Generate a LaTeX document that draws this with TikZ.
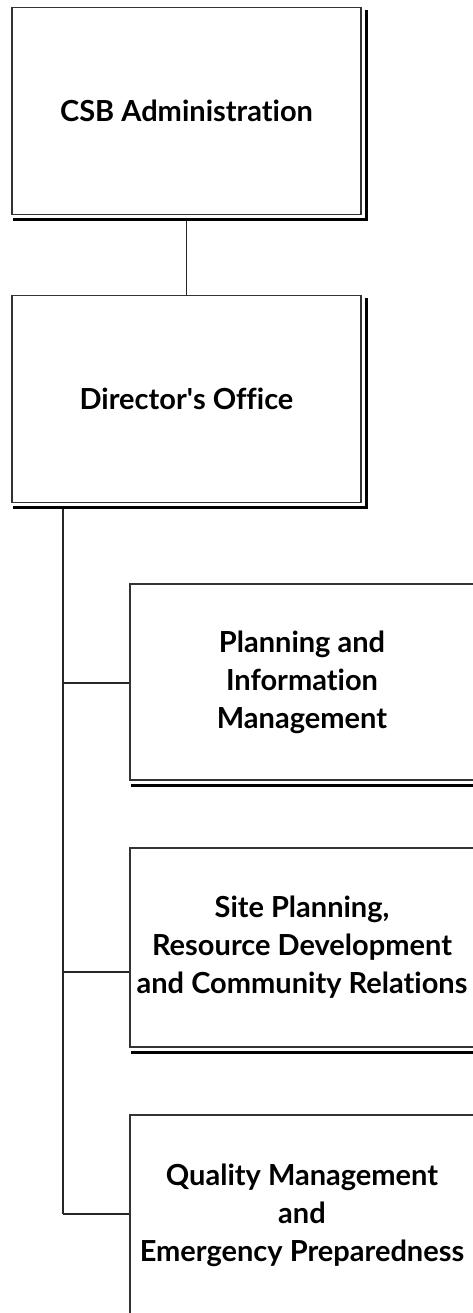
\documentclass[tikz,border=0pt]{standalone}
\usepackage{fontspec}
\setmainfont{Lato}[Ligatures={NoCommon}]
\begin{document}
\begin{tikzpicture}[x=1pt,y=-1pt,
  orgbox/.style={draw=black!80, line width=1.3pt, fill=white, rectangle, inner sep=0pt,
    align=center, font=\bfseries\fontsize{29}{38}\selectfont},
  shadowline/.style={line width=3.2pt, black},
  link/.style={draw=black!85, line width=1.2pt}]
\useasboundingbox (0,0) rectangle (473,1313);
% boxes
\node[orgbox, minimum width=349pt, minimum height=207pt] (csb) at (186.5,111) {CSB Administration};
\node[orgbox, minimum width=349pt, minimum height=207pt] (dir) at (186.5,399) {Director\textquotesingle s Office};
\node[orgbox, minimum width=344pt, minimum height=196pt] (pim) at (302,682) {Planning and\\Information\\Management};
\node[orgbox, minimum width=344pt, minimum height=199pt] (sp) at (302,947.5) {Site Planning,\\Resource Development\\and Community Relations};
\node[orgbox, minimum width=344pt, minimum height=200pt] (qm) at (302,1215) {Quality Management\\and\\Emergency Preparedness};
% shadows
\foreach \b in {csb,dir,pim,sp}{
  \draw[shadowline] ([xshift=2pt,yshift=-4.5pt]\b.south west) -- ([xshift=4.5pt,yshift=-4.5pt]\b.south east) -- ([xshift=4.5pt,yshift=-3pt]\b.north east);
}
% connectors
\draw[link] ([yshift=-6pt]csb.south) -- (dir.north);
\coordinate (bustop) at ([yshift=-6pt]dir.south west -| 63,0);
\coordinate (b1) at (63,683);
\coordinate (b2) at (63,972);
\coordinate (b3) at (63,1214);
\draw[link] (bustop) -- (b3);
\draw[link] (b1) -- (b1 -| pim.west);
\draw[link] (b2) -- (b2 -| sp.west);
\draw[link] (b3) -- (b3 -| qm.west);
\end{tikzpicture}
\end{document}
